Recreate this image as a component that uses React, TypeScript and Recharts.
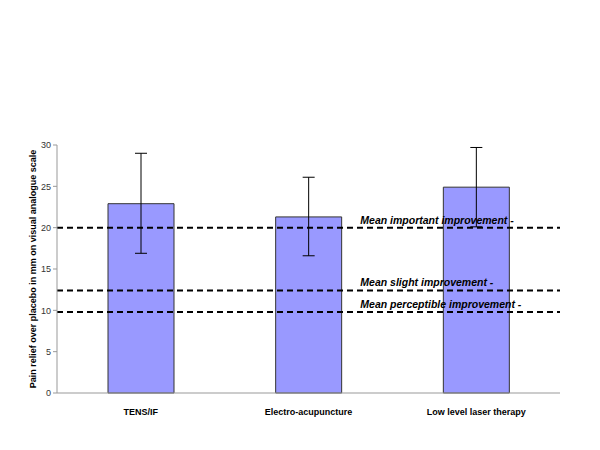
import React from 'react';
import { BarChart, Bar, XAxis, YAxis, ErrorBar, ReferenceLine } from 'recharts';

const categories = ['TENS/IF', 'Electro-acupuncture', 'Low level laser therapy'];
const reliefValues = [22.9, 21.3, 24.9];
const errorLow = [6.0, 4.7, 4.8];
const errorHigh = [6.1, 4.8, 4.8];
const yTicks = [0, 5, 10, 15, 20, 25, 30];
const thresholdValues = [20, 12.4, 9.8];
const thresholdLabels = ['Mean important improvement -', 'Mean slight improvement -', 'Mean perceptible improvement -'];

const data = categories.map((c, i) => ({
  name: c,
  value: reliefValues[i],
  err: [errorLow[i], errorHigh[i]],
}));

const FONT = 'Liberation Sans, Arial, sans-serif';

const makeLabel = (text: string) => (props: any) => {
  const vb = props.viewBox || {};
  const x = (vb.x ?? 0) + (vb.width ?? 0) * 0.603;
  const y = (vb.y ?? 0) - 4;
  return (
    <text x={x} y={y} fontFamily={FONT} fontSize={10.5} fontWeight="bold" fontStyle="italic" fill="#000">
      {text}
    </text>
  );
};

export default function App() {
  return (
    <div style={{ position: 'absolute', left: 0, top: 0, width: 600, height: 450, background: '#fff' }}>
      <BarChart
        width={600}
        height={450}
        data={data}
        margin={{ top: 145, right: 40, bottom: 0, left: 0 }}
        barSize={66}
      >
        <XAxis
          dataKey="name"
          stroke="#999"
          tickLine={false}
          height={57}
          tick={{ fontFamily: FONT, fontSize: 9, fontWeight: 'bold', fill: '#000' }}
          tickMargin={10}
        />
        <XAxis
          xAxisId="grid"
          type="number"
          domain={[0, 3]}
          ticks={[0, 1, 2, 3]}
          stroke="#999"
          axisLine={false}
          tickSize={4}
          tickFormatter={() => ''}
          height={0}
        />
        <YAxis
          domain={[0, 30]}
          ticks={yTicks}
          stroke="#999"
          width={57}
          tickSize={4}
          tick={{ fontFamily: FONT, fontSize: 9, fill: '#333' }}
          label={{
            value: 'Pain relief over placebo in mm on visual analogue scale',
            angle: -90,
            position: 'insideLeft',
            offset: 33,
            style: { fontFamily: FONT, fontSize: 9, fontWeight: 'bold', fill: '#000', textAnchor: 'middle' },
          }}
        />
        <Bar dataKey="value" fill="#9999FF" stroke="#333" strokeWidth={1} isAnimationActive={false}>
          <ErrorBar dataKey="err" width={6} stroke="#000" strokeWidth={1} />
        </Bar>
        {thresholdValues.map((v, i) => (
          <ReferenceLine
            key={i}
            y={v}
            stroke="#000"
            strokeWidth={2}
            strokeDasharray="6 4"
            label={makeLabel(thresholdLabels[i])}
          />
        ))}
      </BarChart>
    </div>
  );
}
